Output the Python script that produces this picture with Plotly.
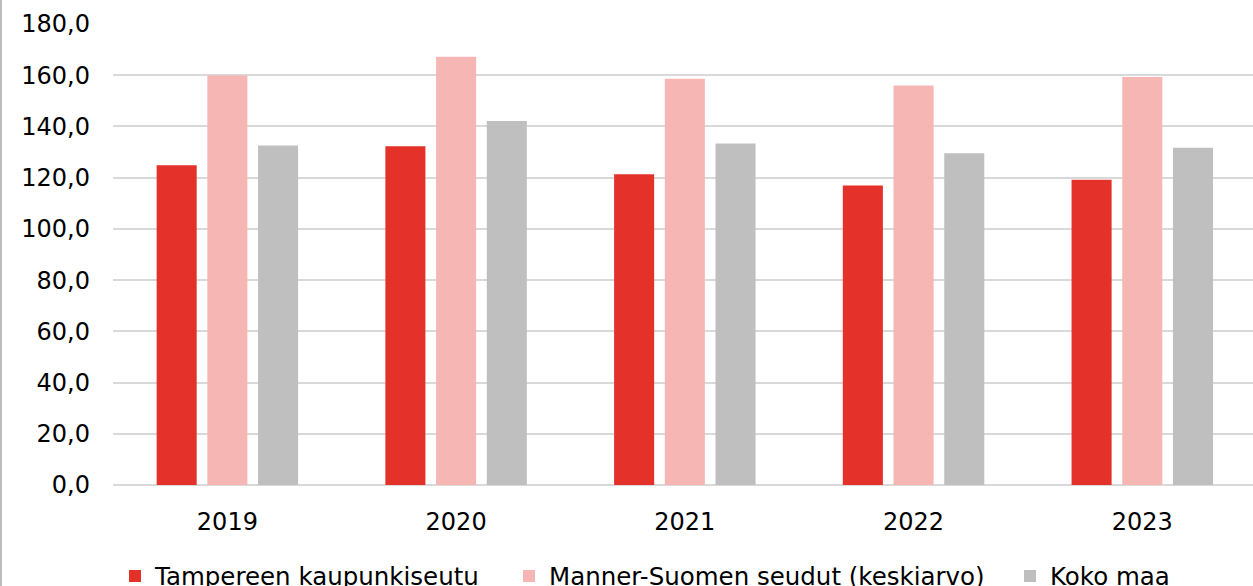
import plotly.graph_objects as go

years = ["2019", "2020", "2021", "2022", "2023"]
tampere = [124.8, 132.3, 121.3, 116.9, 119.2]
manner = [159.9, 167.2, 158.6, 156.0, 159.3]
koko = [132.6, 142.1, 133.3, 129.5, 131.7]

series_names = ["Tampereen kaupunkiseutu", "Manner-Suomen seudut (keskiarvo)", "Koko maa"]
colors = ["#E4322B", "#F5B6B4", "#BFBFBF"]

W, H = 1253, 586
ml, mr, mt, mb = 113, 0, 24, 101
pw, ph = W - ml - mr, H - mt - mb

def px_x(p):
    return (p - ml) / pw

def px_y(p):
    return (H - mb - p) / ph

fig = go.Figure()
legend_ids = ["legend", "legend2", "legend3"]
for name, vals, col, lg in zip(series_names, [tampere, manner, koko], colors, legend_ids):
    fig.add_trace(go.Bar(
        x=years, y=vals, name=name, marker_color=col,
        marker_line_width=0, legend=lg, showlegend=True,
    ))

font = dict(family="DejaVu Sans", size=24, color="#000000")
leg_common = dict(orientation="h", xanchor="left", yanchor="middle",
                  font=dict(family="DejaVu Sans", size=24.5, color="#000000"),
                  bgcolor="rgba(0,0,0,0)", borderwidth=0)

fig.update_layout(
    width=W, height=H,
    margin=dict(l=ml, r=mr, t=mt, b=mb, pad=0, autoexpand=False),
    paper_bgcolor="white", plot_bgcolor="white",
    showlegend=True,
    barmode="group", bargap=0.335, bargroupgap=0.21,
    separators=", ",
    font=font,
    legend=dict(x=px_x(115), y=px_y(576), **leg_common),
    legend2=dict(x=px_x(509), y=px_y(576), **leg_common),
    legend3=dict(x=px_x(1010), y=px_y(576), **leg_common),
    xaxis=dict(type="category", range=[-0.5, 4.484], showgrid=False,
               showline=False, ticks="", ticklabelstandoff=20, automargin=False,
               tickfont=dict(family="DejaVu Sans", size=24, color="#000000")),
    yaxis=dict(range=[0, 180], dtick=20, tick0=0, tickformat=".1f",
               showgrid=True, gridcolor="#D9D9D9", gridwidth=1.6,
               zeroline=True, zerolinecolor="#D9D9D9", zerolinewidth=1.6,
               showline=False, ticks="", ticklabelstandoff=22, automargin=False,
               tickfont=dict(family="DejaVu Sans", size=24, color="#000000")),
    shapes=[dict(type="line", xref="paper", yref="paper",
                 x0=px_x(1), x1=px_x(1), y0=px_y(H), y1=px_y(0),
                 line=dict(color="#A6A6A6", width=1.5))],
)

fig.write_html("out.html", config={"displayModeBar": False},
               post_script="document.body.style.margin='0';document.body.style.overflow='hidden';")
